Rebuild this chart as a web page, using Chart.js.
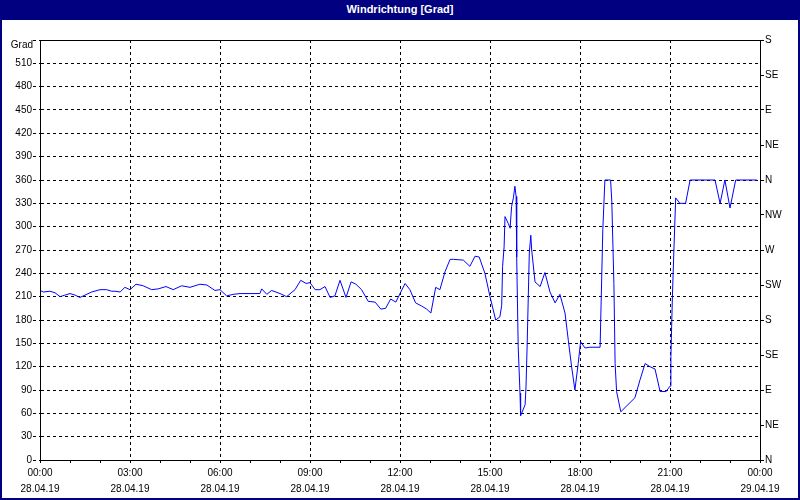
<!DOCTYPE html>
<html>
<head>
<meta charset="utf-8">
<title>Windrichtung</title>
<script src="https://cdn.jsdelivr.net/npm/chart.js@4.4.1/dist/chart.umd.min.js"></script>
<style>
  html, body { margin: 0; padding: 0; background: #fff; }
  #wrap { position: relative; width: 800px; height: 500px; background: #fff; overflow: hidden; }
  #titlebar {
    position: absolute; left: 0; top: 0; width: 800px; height: 20px;
    background: #000080; color: #fff; text-align: center;
    font: bold 11px "Liberation Sans", Arial, sans-serif; line-height: 19px;
  }
  #chart { position: absolute; left: 0; top: 20px; }
  #frame {
    position: absolute; left: 0; top: 0; width: 800px; height: 500px;
    box-sizing: border-box; border: 2px solid #000080; pointer-events: none;
  }
</style>
</head>
<body>
<div id="wrap">
  <div id="titlebar">Windrichtung [Grad]</div>
  <canvas id="chart" width="800" height="480"></canvas>
  <div id="frame"></div>
</div>
<script>
// time of day in hours (28.04.19 00:00 = 0)
const hours = [
  0, 0.11, 0.33, 0.5, 0.67, 0.83, 1.0, 1.17, 1.33, 1.5, 1.72, 2.0, 2.22, 2.39, 2.5, 2.67, 2.83,
  3.0, 3.2, 3.44, 3.72, 3.94, 4.2, 4.44, 4.72, 5.0, 5.33, 5.56, 5.83, 6.0, 6.22, 6.44, 6.67,
  7.33, 7.39, 7.56, 7.72, 8.0, 8.22, 8.5, 8.69, 8.87, 9.0, 9.17, 9.33, 9.5, 9.67, 9.83, 10.0,
  10.2, 10.37, 10.53, 10.72, 10.94, 11.17, 11.36, 11.52, 11.69, 11.86, 12.17, 12.33, 12.52,
  12.72, 12.89, 13.03, 13.19, 13.33, 13.5, 13.67, 13.78, 14.11, 14.33, 14.5, 14.64, 14.83,
  15.0, 15.19, 15.33, 15.39, 15.42, 15.47, 15.5, 15.61, 15.67, 15.72, 15.78, 15.83, 15.87,
  15.89, 15.94, 16.0, 16.02, 16.17, 16.2, 16.24, 16.31, 16.36, 16.39, 16.5, 16.67, 16.83,
  17.0, 17.17, 17.33, 17.5, 17.61, 17.72, 17.83, 17.94, 18.02, 18.17, 18.33, 18.67, 18.76,
  18.83, 19.02, 19.06, 19.13, 19.17, 19.22, 19.36, 19.83, 20.0, 20.17, 20.33, 20.5, 20.67,
  20.87, 21.0, 21.03, 21.08, 21.13, 21.19, 21.33, 21.52, 21.67, 22.5, 22.67, 22.83, 23.0,
  23.19, 23.89
];
// wind direction in degrees
const direction = [
  218, 216, 217, 215, 210, 212, 214, 212, 209, 212, 216, 219, 219, 217, 217, 216, 222,
  219, 226, 224, 219, 220, 223, 219, 224, 222, 226, 225, 218, 219, 211, 213, 214,
  214, 220, 213, 218, 214, 210, 219, 231, 227, 228, 219, 219, 223, 209, 211, 231,
  209, 229, 226, 219, 204, 203, 194, 195, 207, 203, 227, 219, 202,
  198, 194, 189, 222, 219, 242, 258, 258, 257, 249, 262, 261, 240,
  210, 180, 184, 199, 249, 274, 313, 304, 298, 326, 337, 352, 339,
  261, 146, 86, 57, 71, 94, 150, 266, 289, 270, 229, 223, 241,
  216, 202, 213, 189, 154, 120, 90, 124, 152, 144, 145, 145, 296,
  360, 360, 332, 227, 124, 88, 62, 80, 103, 124, 120, 117, 88,
  88, 95, 133, 210, 270, 337, 330, 330, 360, 360, 330, 360, 324,
  360, 360
];

const timeLabels = ['00:00', '03:00', '06:00', '09:00', '12:00', '15:00', '18:00', '21:00', '00:00'];
const dateLabels = ['28.04.19', '28.04.19', '28.04.19', '28.04.19', '28.04.19', '28.04.19', '28.04.19', '28.04.19', '29.04.19'];
const compass = ['N', 'NE', 'E', 'SE', 'S', 'SW', 'W', 'NW', 'N', 'NE', 'E', 'SE', 'S'];

const FONT = '"Liberation Sans", Arial, sans-serif';

// solid frame around the plot and the "Grad" unit label
const framePlugin = {
  id: 'frame',
  afterDraw(chart) {
    const { ctx, chartArea: a } = chart;
    ctx.save();
    ctx.strokeStyle = '#000';
    ctx.lineWidth = 1;
    ctx.strokeRect(Math.round(a.left) + 0.5, Math.round(a.top) + 0.5,
      Math.round(a.right - a.left), Math.round(a.bottom - a.top));
    ctx.fillStyle = '#000';
    ctx.font = '10px ' + FONT;
    ctx.textAlign = 'right';
    ctx.textBaseline = 'middle';
    ctx.fillText('Grad', a.left - 7, a.top + 5.5);
    ctx.restore();
  }
};

new Chart(document.getElementById('chart'), {
  type: 'line',
  data: {
    datasets: [{
      label: 'Windrichtung',
      data: hours.map((h, i) => ({ x: h, y: direction[i] })),
      borderColor: '#0000ff',
      borderWidth: 1,
      pointRadius: 0,
      tension: 0,
      fill: false,
      yAxisID: 'y'
    }]
  },
  options: {
    responsive: false,
    animation: false,
    events: [],
    layout: { padding: { top: 20, left: 0, right: 0, bottom: 0 } },
    plugins: { legend: { display: false }, tooltip: { enabled: false } },
    scales: {
      x: {
        type: 'linear',
        min: 0,
        max: 24,
        afterFit(s) { s.height = 40; },
        ticks: {
          stepSize: 1,
          autoSkip: false,
          maxRotation: 0,
          padding: 2,
          color: '#000',
          font: { family: FONT, size: 10, lineHeight: 1.6 },
          callback: v => (v % 3 === 0 ? [timeLabels[v / 3], dateLabels[v / 3]] : '')
        },
        grid: {
          color: c => (c.tick && c.tick.value % 3 === 0 ? '#000' : 'rgba(0,0,0,0)'),
          tickColor: '#000',
          tickLength: 3,
          tickBorderDash: []
        },
        border: { display: true, color: '#000', dash: [3, 3] }
      },
      y: {
        position: 'left',
        min: 0,
        max: 540,
        afterFit(s) { s.width = 40; },
        ticks: {
          stepSize: 30,
          padding: 1,
          color: '#000',
          font: { family: FONT, size: 10 },
          callback: v => (v === 540 ? '' : v)
        },
        grid: {
          color: '#000',
          tickColor: '#000',
          tickLength: 7,
          tickBorderDash: [3, 3]
        },
        border: { display: true, color: '#000', dash: [3, 3] }
      },
      y2: {
        position: 'right',
        min: 0,
        max: 540,
        afterFit(s) { s.width = 40; },
        ticks: {
          stepSize: 45,
          padding: 1,
          color: '#000',
          font: { family: FONT, size: 10 },
          callback: v => compass[Math.round(v / 45)]
        },
        grid: {
          drawOnChartArea: false,
          color: '#000',
          tickLength: 4
        },
        border: { display: true, color: '#000' }
      }
    }
  },
  plugins: [framePlugin]
});
</script>
</body>
</html>
